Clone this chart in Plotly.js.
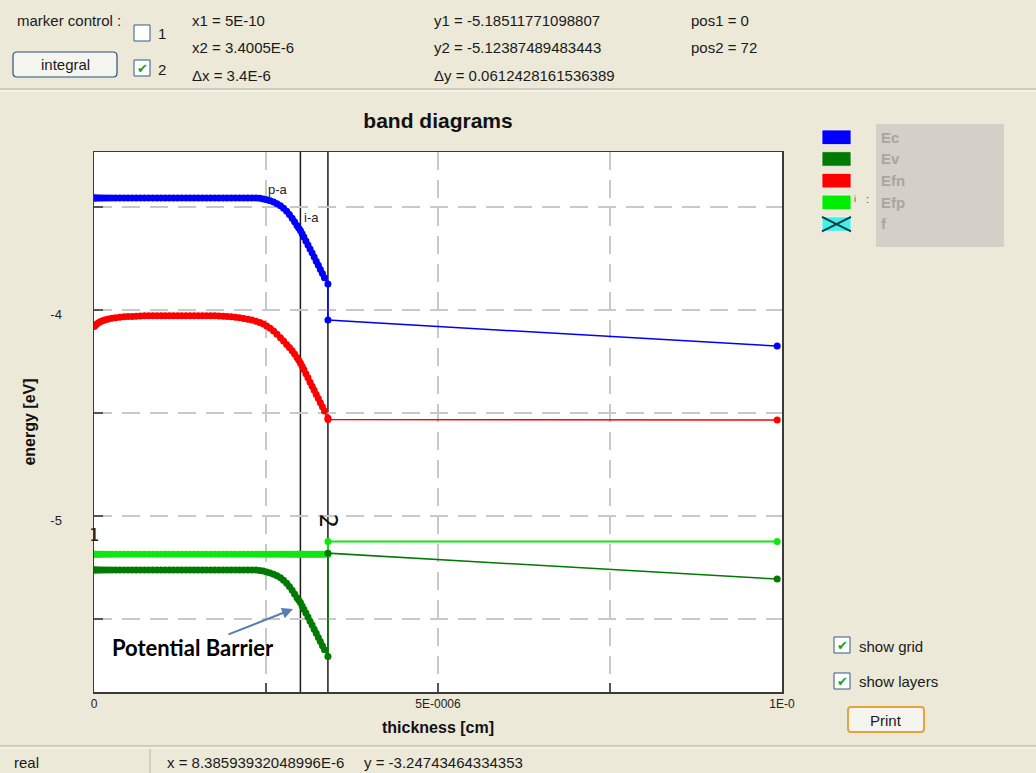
<!DOCTYPE html>
<html>
<head>
<meta charset="utf-8">
<script src="https://cdn.plot.ly/plotly-3.0.1.min.js"></script>
<style>
  html, body { margin: 0; padding: 0; background: #ECE9D8; overflow: hidden; }
  #chart { width: 1036px; height: 773px; }
</style>
</head>
<body>
<div id="chart"></div>
<script>
// Mesh positions through the stack (cm): p-a layer 0..3.0e-6, i-a layer 3.0e-6..3.4e-6, then the bulk
const thickness = [
  5e-10, 0.015e-6, 0.035e-6, 0.06e-6, 0.09e-6, 0.125e-6, 0.165e-6, 0.21e-6, 0.26e-6, 0.315e-6,
  0.375e-6, 0.435e-6, 0.495e-6, 0.555e-6, 0.615e-6, 0.675e-6, 0.735e-6, 0.795e-6, 0.855e-6, 0.915e-6,
  0.975e-6, 1.035e-6, 1.095e-6, 1.155e-6, 1.215e-6, 1.275e-6, 1.335e-6, 1.395e-6, 1.455e-6, 1.515e-6,
  1.575e-6, 1.635e-6, 1.695e-6, 1.755e-6, 1.815e-6, 1.875e-6, 1.935e-6, 1.995e-6, 2.055e-6, 2.115e-6,
  2.175e-6, 2.235e-6, 2.295e-6, 2.355e-6, 2.41e-6, 2.46e-6, 2.51e-6, 2.56e-6, 2.61e-6, 2.66e-6,
  2.71e-6, 2.755e-6, 2.8e-6, 2.84e-6, 2.88e-6, 2.915e-6, 2.95e-6, 2.975e-6, 3.0e-6,
  3.025e-6, 3.05e-6, 3.08e-6, 3.11e-6, 3.14e-6, 3.17e-6, 3.2e-6, 3.23e-6, 3.26e-6, 3.29e-6,
  3.32e-6, 3.35e-6, 3.4e-6, 3.4005e-6, 9.93e-6
];

// Conduction band edge (eV)
const Ec = [
  -3.456, -3.456, -3.456, -3.456, -3.456, -3.456, -3.456, -3.456, -3.456, -3.456, -3.456,
  -3.456, -3.456, -3.456, -3.456, -3.456, -3.456, -3.456, -3.456, -3.456, -3.456, -3.456,
  -3.456, -3.456, -3.456, -3.456, -3.456, -3.456, -3.456, -3.456, -3.456, -3.456, -3.456,
  -3.456, -3.456, -3.456, -3.456, -3.456, -3.456, -3.456, -3.456, -3.456, -3.456, -3.456,
  -3.458, -3.461, -3.465, -3.470, -3.476, -3.484, -3.494, -3.506, -3.520, -3.536,
  -3.554, -3.572, -3.590, -3.602, -3.614, -3.630, -3.646, -3.665, -3.684, -3.704,
  -3.723, -3.743, -3.763, -3.783, -3.803, -3.823, -3.843, -3.874, -4.049, -4.175
];

// Valence band edge (eV)
const Ev = [
  -5.262, -5.262, -5.262, -5.262, -5.262, -5.262, -5.262, -5.262, -5.262, -5.262, -5.262,
  -5.262, -5.262, -5.262, -5.262, -5.262, -5.262, -5.262, -5.262, -5.262, -5.262, -5.262,
  -5.262, -5.262, -5.262, -5.262, -5.262, -5.262, -5.262, -5.262, -5.262, -5.262, -5.262,
  -5.262, -5.262, -5.262, -5.262, -5.262, -5.262, -5.262, -5.262, -5.262, -5.262, -5.262,
  -5.264, -5.267, -5.271, -5.276, -5.282, -5.290, -5.300, -5.312, -5.326, -5.342,
  -5.360, -5.378, -5.396, -5.408, -5.420, -5.436, -5.452, -5.471, -5.490, -5.510,
  -5.529, -5.549, -5.569, -5.589, -5.609, -5.629, -5.649, -5.682, -5.180, -5.306
];

// Electron quasi-Fermi level (eV)
const Efn = [
  -4.080, -4.075, -4.069, -4.063, -4.057, -4.052, -4.047, -4.043, -4.040, -4.037,
  -4.035, -4.033, -4.032, -4.031, -4.030, -4.029,
  -4.028, -4.028, -4.028, -4.028, -4.028, -4.028, -4.028, -4.028, -4.028,
  -4.028, -4.028, -4.028, -4.028, -4.028, -4.028, -4.028, -4.028, -4.028,
  -4.029, -4.030, -4.031, -4.033, -4.035, -4.038, -4.041, -4.045, -4.049, -4.055,
  -4.061, -4.068, -4.077, -4.088, -4.102, -4.117, -4.134, -4.150, -4.167, -4.182,
  -4.198, -4.214, -4.230, -4.242, -4.257,
  -4.273, -4.289, -4.309, -4.329, -4.350, -4.370, -4.390, -4.410, -4.430, -4.450,
  -4.470, -4.490, -4.524, -4.531, -4.534
];

// Hole quasi-Fermi level (eV)
const Efp = [
  -5.18511771098807, -5.1851, -5.1851, -5.1851, -5.1851, -5.1851, -5.1851, -5.1851, -5.1851, -5.1851,
  -5.1851, -5.1851, -5.1851, -5.1851, -5.1851, -5.1851, -5.1851, -5.1851, -5.1851, -5.1851,
  -5.1851, -5.1851, -5.1851, -5.1851, -5.1851, -5.1851, -5.1851, -5.1851, -5.1851, -5.1851,
  -5.1851, -5.1851, -5.1851, -5.1851, -5.1851, -5.1851, -5.1851, -5.1851, -5.1851, -5.1851,
  -5.1851, -5.1851, -5.1851, -5.1851, -5.1851, -5.1851, -5.1851, -5.1851, -5.1851, -5.1851,
  -5.1851, -5.1851, -5.1851, -5.1851, -5.1851, -5.1851, -5.1851, -5.1851, -5.1851,
  -5.1851, -5.1851, -5.1851, -5.1851, -5.1851, -5.1851, -5.1851, -5.1851, -5.1851, -5.1851,
  -5.1851, -5.1851, -5.1851, -5.12387489483443, -5.1239
];

const layerNames = ['p-a', 'i-a'];
const layerBounds = [3.0e-6, 3.4e-6];
const layerLabelX = [2.674e-6, 3.154e-6];
const layerLabelY = [-3.417, -3.553];

const xTickVals = [0, 2.5e-6, 5e-6, 7.5e-6, 1e-5];
const xTickText = ['0', '', '5E-0006', '', '1E-0'];
const yTickVals = [-5.5, -5, -4.5, -4, -3.5];
const yTickText = ['', '-5', '', '-4', ''];

const legendNames = ['Ec', 'Ev', 'Efn', 'Efp', 'f'];
const legendColors = ['#0000ff', '#007a00', '#ff0000', '#00ee00', '#44eeee'];

const markerNames = ['1', '2'];
const markerX = [5e-10, 3.4005e-6];
const markerY = [-5.18511771098807, -5.12387489483443];

const readoutX = ['x1 = 5E-10', 'x2 = 3.4005E-6', '\u0394x = 3.4E-6'];
const readoutY = ['y1 = -5.18511771098807', 'y2 = -5.12387489483443', '\u0394y = 0.0612428161536389'];
const readoutPos = ['pos1 = 0', 'pos2 = 72'];
const statusText = ['real', 'x = 8.38593932048996E-6', 'y = -3.24743464334353'];

// ---- page geometry (pixels) and helpers to place window furniture in paper units
const W = 1036, H = 773, L = 94, R = 782, T = 152, B = 692;
const px = x => (x - L) / (R - L);
const py = y => (B - y) / (B - T);
const uiFont = 'Liberation Sans, Arial, sans-serif';

const shapes = [];
const annotations = [];

function rect(x0, y0, x1, y1, fill, line, lw) {
  shapes.push({type: 'rect', xref: 'paper', yref: 'paper', x0: px(x0), x1: px(x1), y0: py(y1), y1: py(y0),
    fillcolor: fill, line: {color: line || 'rgba(0,0,0,0)', width: lw || 0}, layer: 'above'});
}
function hline(x0, x1, y, color, w) {
  shapes.push({type: 'line', xref: 'paper', yref: 'paper', x0: px(x0), x1: px(x1), y0: py(y), y1: py(y),
    line: {color: color, width: w || 1}, layer: 'above'});
}
function vline(x, y0, y1, color, w) {
  shapes.push({type: 'line', xref: 'paper', yref: 'paper', x0: px(x), x1: px(x), y0: py(y0), y1: py(y1),
    line: {color: color, width: w || 1}, layer: 'above'});
}
function roundRect(x0, y0, x1, y1, r, fill, line, lw) {
  const rx = r / (R - L), ry = r / (B - T);
  const a = px(x0), b = px(x1), top = py(y0), bot = py(y1);
  const d = `M${a + rx},${top} L${b - rx},${top} Q${b},${top} ${b},${top - ry} L${b},${bot + ry} Q${b},${bot} ${b - rx},${bot} ` +
            `L${a + rx},${bot} Q${a},${bot} ${a},${bot + ry} L${a},${top - ry} Q${a},${top} ${a + rx},${top} Z`;
  shapes.push({type: 'path', xref: 'paper', yref: 'paper', path: d, fillcolor: fill,
    line: {color: line, width: lw}, layer: 'above'});
}
function text(t, x, y, opts) {
  annotations.push(Object.assign({
    text: t, xref: 'paper', yref: 'paper', x: px(x), y: py(y), xanchor: 'left', yanchor: 'middle',
    showarrow: false, font: {family: uiFont, size: 15, color: '#1a1a1a'}
  }, opts || {}));
}
function checkbox(x, y, checked) {
  rect(x, y, x + 16, y + 16, '#ffffff', '#2c5a8c', 1);
  if (checked) text('\u2714', x + 8, y + 8.5, {xanchor: 'center', font: {family: 'DejaVu Sans', size: 13, color: '#21a121'}});
}

// window panels
hline(0, W, 89, '#cfcbb9', 2);
hline(0, W, 91, '#fbfaf5', 1);
hline(0, W, 746, '#c9c5b3', 1.5);
hline(0, W, 748, '#fbfaf5', 1);
vline(150, 749, H, '#c9c5b3', 1.5);

// marker control bar
text('marker control :', 15, 21);
checkbox(134, 25, false);
text(markerNames[0], 156, 33);
roundRect(13, 52, 117, 77, 4, '#f6f6f1', '#2a4f7d', 1.2);
text('integral', 65, 64.5, {xanchor: 'center'});
checkbox(134, 60, true);
text(markerNames[1], 156, 69);
readoutX.forEach((t, i) => text(t, 190, 20 + i * 27.5));
readoutY.forEach((t, i) => text(t, 432, 20 + i * 27.5));
readoutPos.forEach((t, i) => text(t, 689, 20 + i * 27.5));

// series key
rect(876, 124, 1004, 247, '#d4d0c8');
legendNames.forEach((n, i) => {
  const y0 = 130 + i * 21.7;
  rect(822, y0, 851, y0 + 14.5, legendColors[i], 'rgba(255,255,255,0.7)', 1);
  text('<b>' + n + '</b>', 879, y0 + 7, {font: {family: uiFont, size: 15, color: '#aaa69c'}});
});
// crossed swatch for f
shapes.push({type: 'line', xref: 'paper', yref: 'paper', x0: px(822), x1: px(851), y0: py(216.8), y1: py(231.3),
  line: {color: '#0b3c3c', width: 2}, layer: 'above'});
shapes.push({type: 'line', xref: 'paper', yref: 'paper', x0: px(822), x1: px(851), y0: py(231.3), y1: py(216.8),
  line: {color: '#0b3c3c', width: 2}, layer: 'above'});
text('i', 855, 199, {xanchor: 'center', font: {family: uiFont, size: 9, color: '#555'}});
text(':', 867, 199, {xanchor: 'center', font: {family: uiFont, size: 11, color: '#444'}});

// display options
checkbox(834, 637, true);
text('show grid', 857, 646);
checkbox(834, 673, true);
text('show layers', 857, 681.5);
roundRect(848, 707, 924, 732, 3, '#f5f4ee', '#e3a53b', 2);
text('Print', 886, 720, {xanchor: 'center'});

// status bar
text(statusText[0], 12, 762);
text(statusText[1], 165, 762);
text(statusText[2], 362, 762);

// layer boundaries and their names
layerBounds.forEach(xb => shapes.push({type: 'line', xref: 'x', yref: 'paper', x0: xb, x1: xb, y0: 0, y1: 1,
  line: {color: '#1a1a1a', width: 1.5}, layer: 'between'}));
layerNames.forEach((n, i) => annotations.push({text: n, xref: 'x', yref: 'y', x: layerLabelX[i], y: layerLabelY[i],
  showarrow: false, xanchor: 'center', yanchor: 'middle', font: {family: uiFont, size: 13, color: '#222'}}));

// marker cursors
annotations.push({text: markerNames[0], xref: 'x', yref: 'y', x: markerX[0], y: markerY[0], yshift: 19,
  showarrow: false, font: {family: 'DejaVu Sans Mono', size: 17, color: '#222'}});
annotations.push({text: markerNames[1], xref: 'x', yref: 'y', x: markerX[1], y: markerY[1], yshift: 21, textangle: 90,
  showarrow: false, font: {family: 'DejaVu Sans Mono', size: 24, color: '#111'}});

// potential barrier callout
annotations.push({text: '<b>Potential Barrier</b>', xref: 'paper', yref: 'paper', x: px(193), y: py(647),
  showarrow: false, xanchor: 'center', yanchor: 'middle', font: {family: 'Lato, Open Sans, sans-serif', size: 22, color: '#000'}});
annotations.push({text: '', xref: 'paper', yref: 'paper', x: px(293), y: py(609), ax: -66, ay: 26,
  showarrow: true, arrowhead: 2, arrowsize: 1.1, arrowwidth: 2, arrowcolor: '#5a7db3'});

// band traces
function band(y, color, width) {
  return {x: thickness, y: y, type: 'scatter', mode: 'lines+markers',
    line: {color: color, width: width}, marker: {color: color, size: 7}, hoverinfo: 'skip'};
}
const traces = [
  band(Efp, '#11e611', 2),
  band(Ev, '#007a00', 1.5),
  band(Efn, '#ff0000', 1.5),
  band(Ec, '#0000ff', 1.5)
];

const gridStyle = {showgrid: true, gridcolor: '#c8c8c8', gridwidth: 1.5, griddash: '18px,10px'};

const layout = {
  width: W, height: H,
  margin: {l: L, r: W - R, t: T, b: H - B, pad: 0},
  paper_bgcolor: '#ECE9D8', plot_bgcolor: '#ffffff',
  showlegend: false,
  font: {family: uiFont, color: '#222'},
  title: {text: '<b>band diagrams</b>', font: {family: uiFont, size: 21, color: '#111'},
    x: 0.5, xref: 'paper', xanchor: 'center', y: 1 - 121 / H, yref: 'container', yanchor: 'middle'},
  xaxis: Object.assign({
    range: [0, 1e-5], tickmode: 'array', tickvals: xTickVals, ticktext: xTickText,
    ticks: 'inside', ticklen: 9, tickwidth: 2, tickcolor: '#555',
    showline: true, linecolor: '#3a3a3a', linewidth: 1.5, mirror: true, zeroline: false,
    tickfont: {family: uiFont, size: 12, color: '#222'},
    title: {text: '<b>thickness [cm]</b>', font: {family: uiFont, size: 16, color: '#111'}, standoff: 12},
    automargin: false, fixedrange: true
  }, gridStyle),
  yaxis: Object.assign({
    range: [-5.854, -3.233], tickmode: 'array', tickvals: yTickVals, ticktext: yTickText,
    ticks: 'inside', ticklen: 9, tickwidth: 2, tickcolor: '#555',
    showline: true, linecolor: '#3a3a3a', linewidth: 1.5, mirror: true, zeroline: false,
    tickfont: {family: uiFont, size: 13, color: '#222'}, ticklabelstandoff: 28, ticklabelshift: 4,
    title: {text: '<b>energy [eV]</b>', font: {family: uiFont, size: 16, color: '#111'}, standoff: 10},
    automargin: false, fixedrange: true
  }, gridStyle),
  shapes: shapes,
  annotations: annotations
};

Plotly.newPlot('chart', traces, layout, {staticPlot: true, displayModeBar: false});
</script>
</body>
</html>
